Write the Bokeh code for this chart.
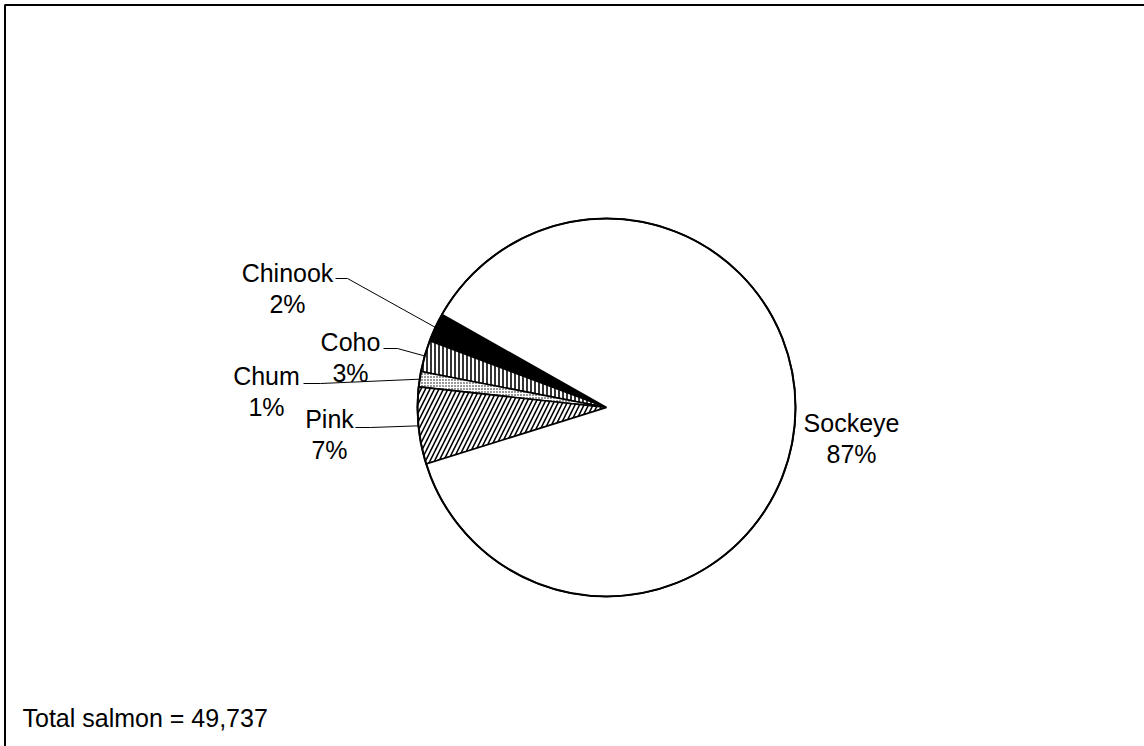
import math

from bokeh.plotting import figure
from bokeh.models import Range1d
from bokeh.core.properties import value
from bokeh.embed import file_html
from bokeh.resources import INLINE

# Catch by species (counter-clockwise from the upper-left edge of the pie)
species = ["Chinook", "Coho", "Chum", "Pink", "Sockeye"]
counts = [1220, 1340, 650, 3270, 43257]

# Slice styling
fills = ["black", "white", "white", "white", "white"]
hatches = [" ", "|", ".", "/", " "]
hatch_scales = [12, 4, 3, 9, 12]
hatch_weights = [1, 1.6, 1.6, 1.6, 1]

# Label anchors in page pixels (centre x, baseline y of the name line)
label_pos = {
    "Chinook": (287, 272),
    "Coho": (350, 341),
    "Chum": (266, 375),
    "Pink": (329, 418),
    "Sockeye": (851, 422),
}
# Leader line starting points (page pixels); Sockeye has none
leader_start = {
    "Chinook": [(335, 278), (347, 278)],
    "Coho": [(383, 348), (397, 348)],
    "Chum": [(303, 383), (320, 383)],
    "Pink": [(355, 427), (370, 427)],
}

W, H = 1144, 746
CX, CY, R = 606, 407, 189          # pie centre / radius in page pixels
START_DEG = 150.5
FONT = value("Liberation Sans")
FONT_SIZE = "25px"


def fy(y):
    """Page y (downwards) to plot y (upwards)."""
    return H - y


p = figure(width=W, height=H, x_range=Range1d(0, W), y_range=Range1d(0, H),
           x_axis_type=None, y_axis_type=None, toolbar_location=None,
           output_backend="svg", min_border=0)
p.outline_line_color = None
p.grid.visible = False
p.background_fill_color = "white"
p.border_fill_color = "white"

total = sum(counts)

# Wedges
angle = math.radians(START_DEG)
mids = {}
for name, c, fc, hp, hs, hw in zip(species, counts, fills, hatches, hatch_scales, hatch_weights):
    span = 2 * math.pi * c / total
    p.wedge(x=[CX], y=[fy(CY)], radius=R, start_angle=angle, end_angle=angle + span,
            fill_color=fc, line_color="black", line_width=1.6,
            hatch_pattern=hp, hatch_color="black", hatch_scale=hs, hatch_weight=hw)
    mids[name] = angle + span / 2
    angle += span

# Outer rim of the pie
p.circle(x=[CX], y=[fy(CY)], radius=R, fill_color=None, line_color="black", line_width=2)

# Leader lines from labels to the slice edges
for name, pts in leader_start.items():
    a = mids[name]
    ex, ey = CX + R * math.cos(a), fy(CY) + R * math.sin(a)
    xs = [x for x, _ in pts] + [ex]
    ys = [fy(y) for _, y in pts] + [ey]
    p.line(xs, ys, line_color="black", line_width=1)

# Category and percentage labels
for name, c in zip(species, counts):
    x, y = label_pos[name]
    pct = f"{round(100 * c / total)}%"
    p.text(x=[x, x], y=[fy(y), fy(y + 31)], text=[name, pct],
           text_font=FONT, text_font_size=FONT_SIZE, text_color="black",
           text_align="center", text_baseline="alphabetic")

# Total note
p.text(x=[22], y=[fy(717)], text=[f"Total salmon = {total:,}"],
       text_font=FONT, text_font_size=FONT_SIZE, text_color="black",
       text_align="left", text_baseline="alphabetic")

# Chart frame (left and top edges visible)
p.line([4.5, 4.5, W + 10], [-10, fy(4.5), fy(4.5)], line_color="black", line_width=2)

open("out.html", "w").write(file_html(p, INLINE))
